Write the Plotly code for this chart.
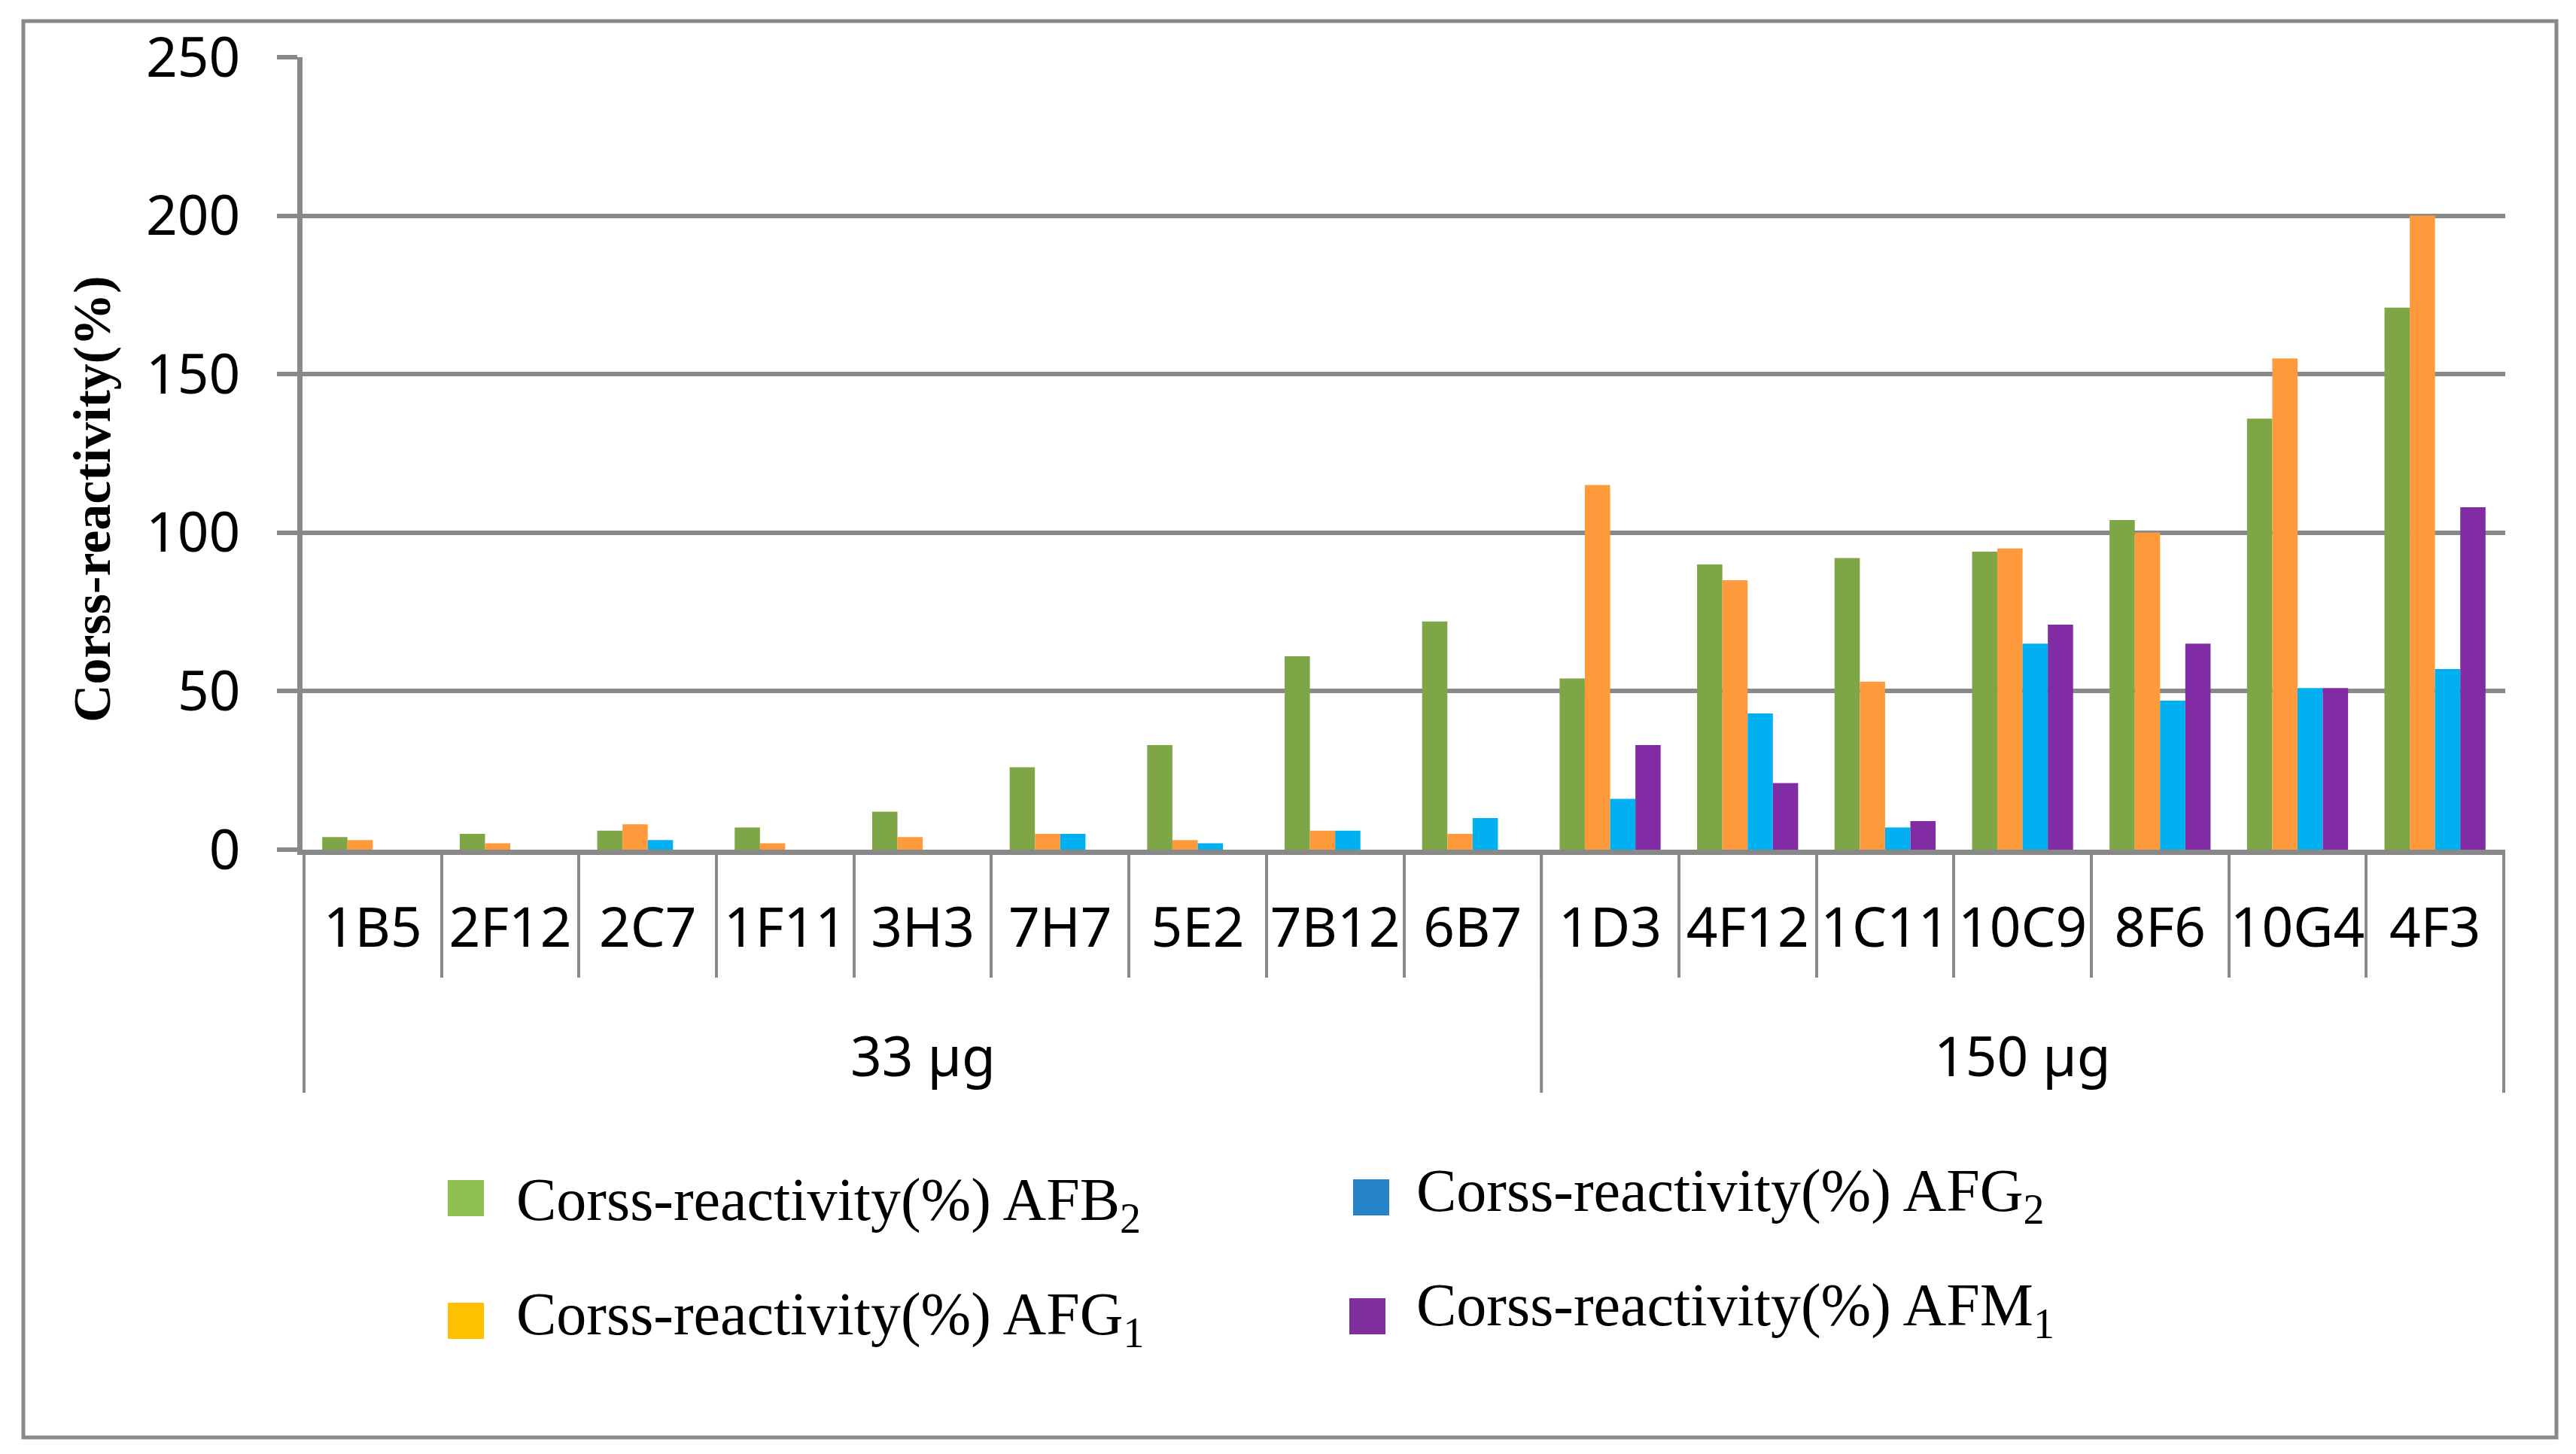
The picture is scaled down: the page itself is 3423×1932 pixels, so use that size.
import plotly.graph_objects as go

groups = ["33 µg"] * 9 + ["150 µg"] * 7
clones = ["1B5", "2F12", "2C7", "1F11", "3H3", "7H7", "5E2", "7B12", "6B7",
          "1D3", "4F12", "1C11", "10C9", "8F6", "10G4", "4F3"]

afb2 = [4, 5, 6, 7, 12, 26, 33, 61, 72, 54, 90, 92, 94, 104, 136, 171]
afg1 = [3, 2, 8, 2, 4, 5, 3, 6, 5, 115, 85, 53, 95, 100, 155, 200]
afg2 = [None, None, 3, None, None, 5, 2, 6, 10, 16, 43, 7, 65, 47, 51, 57]
afm1 = [None] * 9 + [33, 21, 9, 71, 65, 51, 108]

series_names = ["Corss-reactivity(%) AFB<sub>2</sub>", "Corss-reactivity(%) AFG<sub>1</sub>",
                "Corss-reactivity(%) AFG<sub>2</sub>", "Corss-reactivity(%) AFM<sub>1</sub>"]
series_values = [afb2, afg1, afg2, afm1]
bar_colors = ["#7EA646", "#FF9A3C", "#00B0F0", "#812CA5"]
legend_colors = ["#8DC050", "#FFC000", "#2683C6", "#7F2FA0"]

y_ticks = [0, 50, 100, 150, 200, 250]
y_title = "Corss-reactivity(%)"

GRAY = "#898989"
OFF = 8  # page body margin
W, H = 3423 - OFF, 1932 - OFF
# plot area in screen pixels
SX0, SX1, SY0, SY1 = 402, 3329, 76, 1129
L, T = SX0 - OFF, SY0 - OFF
R, B = W - (SX1 - OFF), H - (SY1 - OFF)
PW, PH = SX1 - SX0, SY1 - SY0


def px_x(p):
    return (p - SX0) / PW


def px_y(p):
    return (SY1 - p) / PH


fig = go.Figure()
for name, vals, col in zip(series_names, series_values, bar_colors):
    fig.add_trace(go.Bar(x=clones, y=vals, name=name,
                         marker=dict(color=col, line=dict(width=0)),
                         showlegend=False))

fig.update_layout(
    width=W, height=H,
    margin=dict(l=L, r=R, t=T, b=B, pad=0),
    paper_bgcolor="white", plot_bgcolor="white",
    barmode="group", bargap=0.265, bargroupgap=0,
    showlegend=False,
    font=dict(family="Noto Sans", color="black"),
)

fig.update_xaxes(
    type="category", categoryorder="array", categoryarray=clones,
    showline=True, linecolor=GRAY, linewidth=7,
    ticks="outside", tickson="boundaries", ticklen=163, tickwidth=4, tickcolor=GRAY,
    tickfont=dict(family="Noto Sans", size=73, color="black"),
    ticklabelstandoff=34,
    tickangle=0, showgrid=False, zeroline=False,
)

fig.update_yaxes(
    range=[0, 250], tickvals=y_ticks, ticktext=[str(v) for v in y_ticks],
    showgrid=True, gridcolor=GRAY, gridwidth=6,
    showline=True, linecolor=GRAY, linewidth=7,
    ticks="outside", ticklen=27, tickwidth=6, tickcolor=GRAY,
    ticklabelstandoff=34,
    tickfont=dict(family="Noto Sans", size=73, color="black"),
    zeroline=False,
)

shapes = []
annotations = []

# group dividers and group labels (second category level)
group_order = []
for g in groups:
    if g not in group_order:
        group_order.append(g)
bounds = [-0.5]
for i in range(1, len(groups)):
    if groups[i] != groups[i - 1]:
        bounds.append(i - 0.5)
bounds.append(len(groups) - 0.5)
for bx in bounds:
    shapes.append(dict(type="line", xref="x", yref="paper", x0=bx, x1=bx,
                       y0=0, y1=px_y(1452), line=dict(color=GRAY, width=4)))
for g in group_order:
    idx = [i for i, gg in enumerate(groups) if gg == g]
    annotations.append(dict(xref="x", yref="paper", x=(idx[0] + idx[-1]) / 2, y=px_y(1401),
                            xanchor="center", yanchor="middle", showarrow=False, text=g,
                            font=dict(family="Noto Sans", size=73, color="black")))

# y-axis title
annotations.append(dict(xref="paper", yref="paper", x=px_x(122), y=px_y(663),
                        xanchor="center", yanchor="middle", showarrow=False,
                        textangle=-90, text="<b>" + y_title + "</b>",
                        font=dict(family="Liberation Serif", size=70, color="black")))

# outer frame
shapes.append(dict(type="rect", xref="paper", yref="paper",
                   x0=px_x(31), x1=px_x(3397), y0=px_y(1910), y1=px_y(28),
                   line=dict(color=GRAY, width=5), fillcolor="rgba(0,0,0,0)", layer="below"))

# manual legend (swatches + labels)
leg_swatch = [(595, 1568), (595, 1731), (1798, 1567), (1793, 1725)]
leg_text = [(684, 1600), (684, 1752), (1880, 1588), (1880, 1740)]
for i in range(4):
    sx, sy = leg_swatch[i]
    shapes.append(dict(type="rect", xref="paper", yref="paper",
                       x0=px_x(sx), x1=px_x(sx + 48), y0=px_y(sy + 48), y1=px_y(sy),
                       line=dict(width=0), fillcolor=legend_colors[i]))
    tx, ty = leg_text[i]
    annotations.append(dict(xref="paper", yref="paper", x=px_x(tx), y=px_y(ty),
                            xanchor="left", yanchor="middle", showarrow=False,
                            text=series_names[i],
                            font=dict(family="Liberation Serif", size=80, color="black")))

fig.update_layout(shapes=shapes, annotations=annotations)

fig.write_html("out.html")
